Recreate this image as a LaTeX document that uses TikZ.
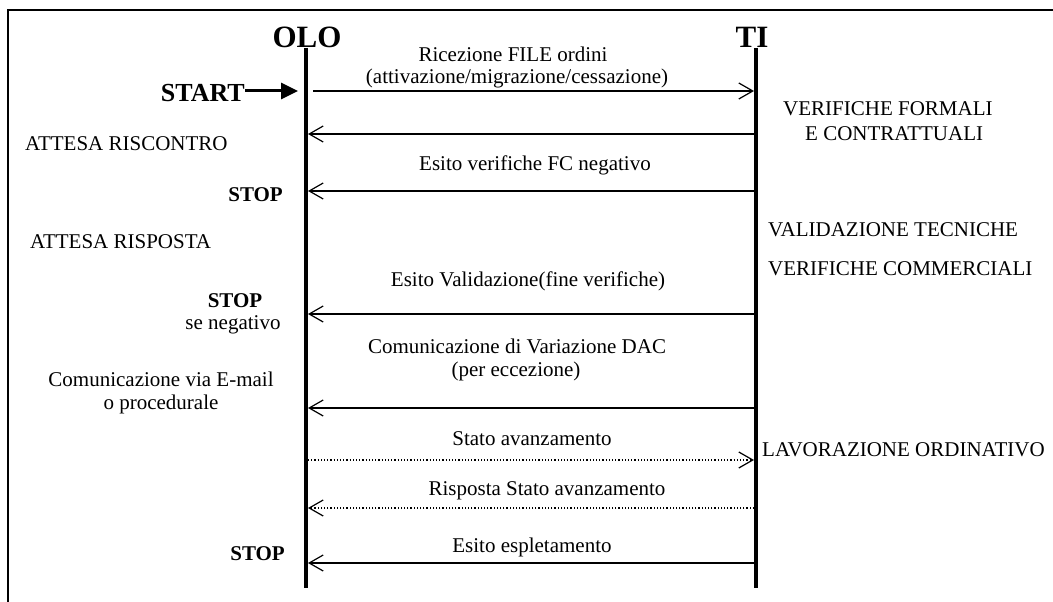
\documentclass[tikz,border=0pt]{standalone}
\usepackage{fontspec}
\setmainfont{Liberation Serif}
\usetikzlibrary{arrows.meta,positioning}

\begin{document}
\begin{tikzpicture}[x=1pt,y=-1pt,
    txt/.style={font=\fontsize{21}{24}\selectfont, inner sep=0pt},
    stoptxt/.style={font=\fontsize{21}{24}\selectfont\bfseries, inner sep=0pt},
    actor/.style={font=\fontsize{31}{34}\selectfont\bfseries, inner sep=0pt},
    lifeline/.style={line width=3.8pt},
    msg/.style={line width=1.2pt, -{Straight Barb[length=14pt,width=16pt]}},
    startarrow/.style={line width=3pt, -{Triangle[length=17pt,width=16pt]}}
]
\useasboundingbox (0,0) rectangle (1053,602);

% frame (only top and left side visible)
\draw[line width=2pt] (1053,10) -- (8,10) -- (8,602);

% actors and lifelines
\node[actor, anchor=base] (olo) at (307,48) {OLO};
\node[actor, anchor=base] (ti) at (752,48) {TI};
\coordinate (olotop) at (306,48);
\coordinate (olobot) at (306,588);
\coordinate (titop) at (756,48);
\coordinate (tibot) at (756,588);
\draw[lifeline] (olotop) -- (olobot);
\draw[lifeline] (titop) -- (tibot);

% message levels: o = OLO side, t = TI side
\foreach \n/\y in {1/91,2/134,3/191,4/314,5/408,6/460,7/508,8/563} {
    \coordinate (o\n) at (308,\y);
    \coordinate (t\n) at (754,\y);
}

% messages
\draw[msg] ([xshift=5pt]o1) -- (t1);
\draw[msg] (t2) -- (o2);
\draw[msg] (t3) -- (o3);
\draw[msg] (t4) -- (o4);
\draw[msg] (t5) -- (o5);
\draw[msg, dotted] (o6) -- (t6);
\draw[msg, dotted] (t7) -- (o7);
\draw[msg] (t8) -- (o8);

% message labels
\node[txt, anchor=base] (m1a) at (513,62) {Ricezione FILE ordini};
\node[txt, anchor=base] (m1b) at (517,84) {(attivazione/migrazione/cessazione)};
\node[txt, anchor=base] (m3) at (535,170) {Esito verifiche FC negativo};
\node[txt, anchor=base] (m4) at (528,286) {Esito Validazione(fine verifiche)};
\node[txt, anchor=base] (m5a) at (517,353) {Comunicazione di Variazione DAC};
\node[txt, anchor=base] (m5b) at (516,376) {(per eccezione)};
\node[txt, anchor=base] (m6) at (532,445) {Stato avanzamento};
\node[txt, anchor=base] (m7) at (547,495) {Risposta Stato avanzamento};
\node[txt, anchor=base] (m8) at (532,552) {Esito espletamento};

% OLO side
\node[actor, font=\fontsize{26}{28}\selectfont\bfseries, anchor=base east] (start) at (245,102) {START};
\coordinate (startend) at (298,91);
\draw[startarrow] (start.east |- startend) -- (startend);
\node[txt, anchor=base west] (attesa1) at (25,150) {ATTESA RISCONTRO};
\node[stoptxt, anchor=base east] (stop1) at (283,201) {STOP};
\node[txt, anchor=base west] (attesa2) at (30,248) {ATTESA RISPOSTA};
\node[stoptxt, anchor=base] (stop2) at (235,307) {STOP};
\node[txt, anchor=base] (seneg) at (233,329) {se negativo};
\node[txt, anchor=base] (mail1) at (161,386) {Comunicazione via E-mail};
\node[txt, anchor=base] (mail2) at (161,409) {o procedurale};
\node[stoptxt, anchor=base east] (stop3) at (285,560) {STOP};

% TI side
\node[txt, anchor=base west] (verif1) at (783,115) {VERIFICHE FORMALI};
\node[txt, anchor=base west] (verif2) at (805,140) {E CONTRATTUALI};
\node[txt, anchor=base west] (valid) at (768,236) {VALIDAZIONE TECNICHE};
\node[txt, anchor=base west] (comm) at (768,275) {VERIFICHE COMMERCIALI};
\node[txt, anchor=base west] (lavor) at (762,456) {LAVORAZIONE ORDINATIVO};
\end{tikzpicture}
\end{document}
